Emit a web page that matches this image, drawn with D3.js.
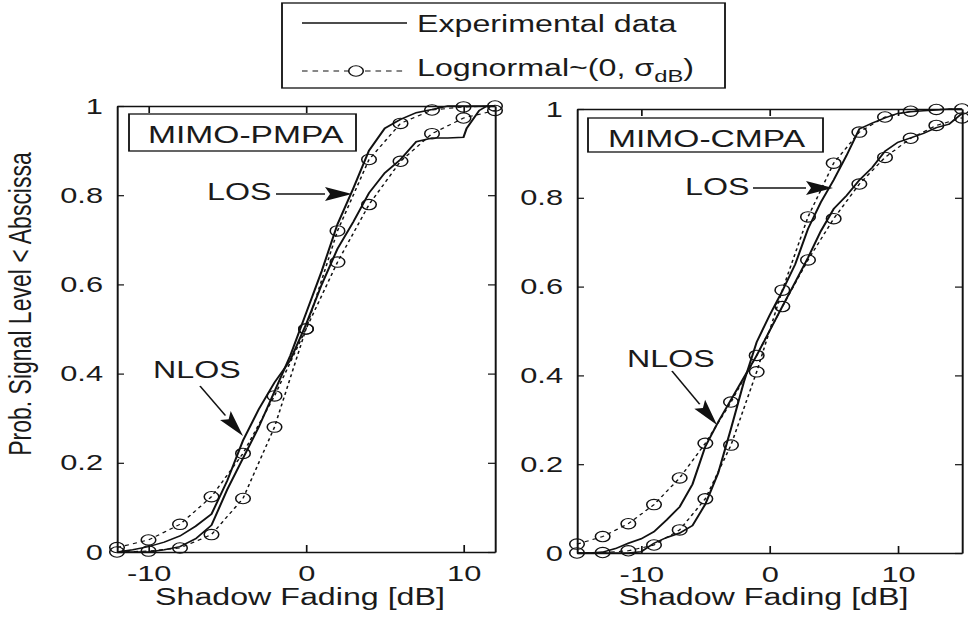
<!DOCTYPE html>
<html>
<head>
<meta charset="utf-8">
<script src="https://cdn.jsdelivr.net/npm/d3@7"></script>
<style>
body { margin: 0; background: #fff; }
text { font-family: "Liberation Sans", Arial, sans-serif; fill: #1a1a1a; }
</style>
</head>
<body>
<svg id="vis" width="968" height="623"></svg>
<script>
// values
const xTicks = [-10, 0, 10];
const yTicks = [0, 0.2, 0.4, 0.6, 0.8, 1];
const yTickLabels = ["0", "0.2", "0.4", "0.6", "0.8", "1"];
const legendLabels = ["Experimental data", "Lognormal~(0, σ"];

// MIMO-PMPA
const pmpaExpX = [-12,-11,-10,-9,-8,-7,-6,-5,-4,-3,-2,-1,0,1,2,3,4,5,6,7,8,9,10,11,12];
const pmpaLosExp = [0,0,0,0.005,0.012,0.03,0.06,0.14,0.21,0.28,0.36,0.44,0.535,0.63,0.735,0.815,0.9,0.95,0.97,0.985,0.992,1,1,1,1];
const pmpaNlosExpX = [-12,-11,-10,-9,-8,-7,-6,-5,-4,-3,-2,-1,0,1,2,3,4,5,6,7,8,9,10,10.2,10.6,11,11.5,12];
const pmpaNlosExp = [0,0.005,0.012,0.022,0.036,0.058,0.085,0.16,0.25,0.32,0.38,0.43,0.51,0.6,0.68,0.74,0.805,0.85,0.88,0.92,0.928,0.928,0.93,0.95,0.97,0.99,1,1];
const pmpaLogX = [-12,-10,-8,-6,-4,-2,0,2,4,6,8,10,12];
const pmpaLosLog = [0,0.002,0.009,0.039,0.12,0.28,0.5,0.72,0.88,0.961,0.991,0.998,1];
const pmpaNlosLog = [0.01,0.027,0.062,0.124,0.221,0.35,0.5,0.65,0.779,0.876,0.938,0.973,0.99];

// MIMO-CMPA
const cmpaExpX = [-15,-14,-13,-12,-11,-10,-9,-8,-7,-6,-5,-4,-3,-2,-1,0,1,2,3,4,5,6,7,8,9,10,11,12,13,14,15];
const cmpaLosExp = [0,0,0,0,0,0.003,0.022,0.035,0.045,0.062,0.11,0.18,0.28,0.385,0.475,0.535,0.59,0.65,0.73,0.79,0.84,0.895,0.955,0.968,0.98,0.99,0.994,0.996,0.998,1,1];
const cmpaNlosExp = [0,0,0.002,0.01,0.022,0.032,0.048,0.075,0.104,0.155,0.24,0.295,0.345,0.395,0.445,0.5,0.555,0.61,0.665,0.725,0.775,0.805,0.84,0.868,0.905,0.925,0.935,0.945,0.958,0.966,0.99];
const cmpaLogX = [-15,-13,-11,-9,-7,-5,-3,-1,1,3,5,7,9,11,13,15];
const cmpaLosLog = [0,0.001,0.005,0.018,0.052,0.122,0.243,0.408,0.592,0.757,0.878,0.948,0.982,0.995,0.999,1];
const cmpaNlosLog = [0.02,0.037,0.066,0.109,0.169,0.247,0.34,0.445,0.555,0.66,0.753,0.831,0.891,0.934,0.963,0.98];

function draw() {
    // the original figure is stretched sideways, so draw in a squeezed frame and scale it back
    const S = 1.4;
    const vx = (v) => v / S;
    const ink = "#111";

    let svg = d3.select("#vis");
    let g = svg.append("g").attr("transform", `scale(${S},1)`);

    const panels = [
        {
            title: "MIMO-PMPA", dom: [-12, 12], left: 117, right: 495, top: 106, bottom: 552,
            losExp: d3.zip(pmpaExpX, pmpaLosExp), nlosExp: d3.zip(pmpaNlosExpX, pmpaNlosExp),
            losLog: d3.zip(pmpaLogX, pmpaLosLog), nlosLog: d3.zip(pmpaLogX, pmpaNlosLog),
            box: [129, 114, 356, 151], titleAt: [148, 143],
            losText: [207, 200], losArrow: [[276, 194], [352, 194]],
            nlosText: [153, 378], nlosArrow: [[200, 386], [243, 436]]
        },
        {
            title: "MIMO-CMPA", dom: [-15, 15], left: 577, right: 962, top: 109, bottom: 553,
            losExp: d3.zip(cmpaExpX, cmpaLosExp), nlosExp: d3.zip(cmpaExpX, cmpaNlosExp),
            losLog: d3.zip(cmpaLogX, cmpaLosLog), nlosLog: d3.zip(cmpaLogX, cmpaNlosLog),
            box: [588, 118, 823, 152], titleAt: [608, 147],
            losText: [685, 195], losArrow: [[753, 188], [833, 188]],
            nlosText: [627, 367], nlosArrow: [[672, 371], [717, 425]]
        }
    ];

    function arrow(parent, from, to) {
        // geometry in final pixels, then squeezed
        let dx = to[0] - from[0], dy = to[1] - from[1];
        let len = Math.hypot(dx, dy);
        let ux = dx / len, uy = dy / len;
        let hl = 27, hw = 7;
        let bx = to[0] - ux * hl, by = to[1] - uy * hl;
        parent.append("line")
            .attr("x1", vx(from[0])).attr("y1", from[1])
            .attr("x2", vx(bx)).attr("y2", by)
            .attr("stroke", ink).attr("stroke-width", 1.3);
        let pts = [
            [to[0], to[1]],
            [bx - uy * hw, by + ux * hw],
            [bx + ux * 5, by + uy * 5],
            [bx + uy * hw, by - ux * hw]
        ];
        parent.append("polygon")
            .attr("points", pts.map((p) => `${vx(p[0])},${p[1]}`).join(" "))
            .attr("fill", ink);
    }

    panels.forEach((p) => {
        let x = d3.scaleLinear().domain(p.dom).range([vx(p.left), vx(p.right)]);
        let y = d3.scaleLinear().domain([0, 1]).range([p.bottom, p.top]);
        let pg = g.append("g");

        pg.append("g")
            .attr("transform", `translate(0, ${p.bottom})`)
            .call(d3.axisBottom(x).tickValues(xTicks).tickSizeInner(-7).tickSizeOuter(0)
                .tickPadding(13).tickFormat((d) => String(d)));
        pg.append("g")
            .attr("transform", `translate(0, ${p.top})`)
            .call(d3.axisTop(x).tickValues(xTicks).tickSizeInner(-7).tickSizeOuter(0).tickFormat(""));
        pg.append("g")
            .attr("transform", `translate(${vx(p.left)}, 0)`)
            .call(d3.axisLeft(y).tickValues(yTicks).tickSizeInner(-5).tickSizeOuter(0)
                .tickPadding(10).tickFormat((d, i) => yTickLabels[i]));
        pg.append("g")
            .attr("transform", `translate(${vx(p.right)}, 0)`)
            .call(d3.axisRight(y).tickValues(yTicks).tickSizeInner(-5).tickSizeOuter(0).tickFormat(""));

        pg.selectAll(".domain").attr("stroke", ink).attr("stroke-width", 1.4);
        pg.selectAll(".tick line").attr("stroke", ink).attr("stroke-width", 1.2);
        pg.selectAll(".tick text")
            .attr("font-family", "Liberation Sans, Arial, sans-serif")
            .attr("font-size", 22).attr("fill", "#1a1a1a");

        // x label
        pg.append("text")
            .attr("x", vx((p.left + p.right) / 2 - 6))
            .attr("y", 605)
            .attr("text-anchor", "middle")
            .attr("font-size", 23)
            .text("Shadow Fading [dB]");

        let line = d3.line().x((d) => x(d[0])).y((d) => y(d[1]));

        // lognormal fits
        [p.losLog, p.nlosLog].forEach((s) => {
            pg.append("path")
                .attr("d", line(s))
                .attr("fill", "none").attr("stroke", ink)
                .attr("stroke-width", 1.1).attr("stroke-dasharray", "3,3");
            pg.selectAll(null)
                .data(s)
                .enter().append("circle")
                    .attr("cx", (d) => x(d[0]))
                    .attr("cy", (d) => y(d[1]))
                    .attr("r", 5.2)
                    .attr("fill", "none").attr("stroke", ink).attr("stroke-width", 1.1);
        });

        // experimental
        [p.losExp, p.nlosExp].forEach((s) => {
            pg.append("path")
                .attr("d", line(s))
                .attr("fill", "none").attr("stroke", ink).attr("stroke-width", 1.5);
        });

        // title box
        pg.append("rect")
            .attr("x", vx(p.box[0])).attr("y", p.box[1])
            .attr("width", vx(p.box[2] - p.box[0])).attr("height", p.box[3] - p.box[1])
            .attr("fill", "#fff").attr("stroke", ink).attr("stroke-width", 1.3);
        pg.append("text")
            .attr("x", vx(p.titleAt[0])).attr("y", p.titleAt[1])
            .attr("font-size", 24)
            .text(p.title);

        // annotations
        pg.append("text")
            .attr("x", vx(p.losText[0])).attr("y", p.losText[1])
            .attr("font-size", 23).text("LOS");
        arrow(pg, p.losArrow[0], p.losArrow[1]);
        pg.append("text")
            .attr("x", vx(p.nlosText[0])).attr("y", p.nlosText[1])
            .attr("font-size", 23).text("NLOS");
        arrow(pg, p.nlosArrow[0], p.nlosArrow[1]);
    });

    // y label
    g.append("text")
        .attr("transform", `translate(${vx(31)}, 304) rotate(-90)`)
        .attr("text-anchor", "middle")
        .attr("font-size", 23)
        .text("Prob. Signal Level < Abscissa");

    // legend
    let lg = g.append("g");
    lg.append("rect")
        .attr("x", vx(282)).attr("y", 3)
        .attr("width", vx(725 - 282)).attr("height", 85)
        .attr("fill", "#fff").attr("stroke", ink).attr("stroke-width", 1.3);
    lg.append("line")
        .attr("x1", vx(302)).attr("x2", vx(407)).attr("y1", 23).attr("y2", 23)
        .attr("stroke", ink).attr("stroke-width", 1.5);
    lg.append("text")
        .attr("x", vx(417)).attr("y", 32)
        .attr("font-size", 23).text(legendLabels[0]);
    lg.append("line")
        .attr("x1", vx(302)).attr("x2", vx(407)).attr("y1", 71).attr("y2", 71)
        .attr("stroke", ink).attr("stroke-width", 1.1).attr("stroke-dasharray", "4,3.5");
    lg.append("circle")
        .attr("cx", vx(356)).attr("cy", 71).attr("r", 5.2)
        .attr("fill", "#fff").attr("stroke", ink).attr("stroke-width", 1.1);
    let t2 = lg.append("text")
        .attr("x", vx(417)).attr("y", 76)
        .attr("font-size", 23);
    t2.append("tspan").text(legendLabels[1]);
    t2.append("tspan").attr("dy", 6).attr("font-size", 17).text("dB");
    t2.append("tspan").attr("dy", -6).text(")");
}

document.addEventListener('DOMContentLoaded', () => {
    draw();
});
</script>
</body>
</html>
